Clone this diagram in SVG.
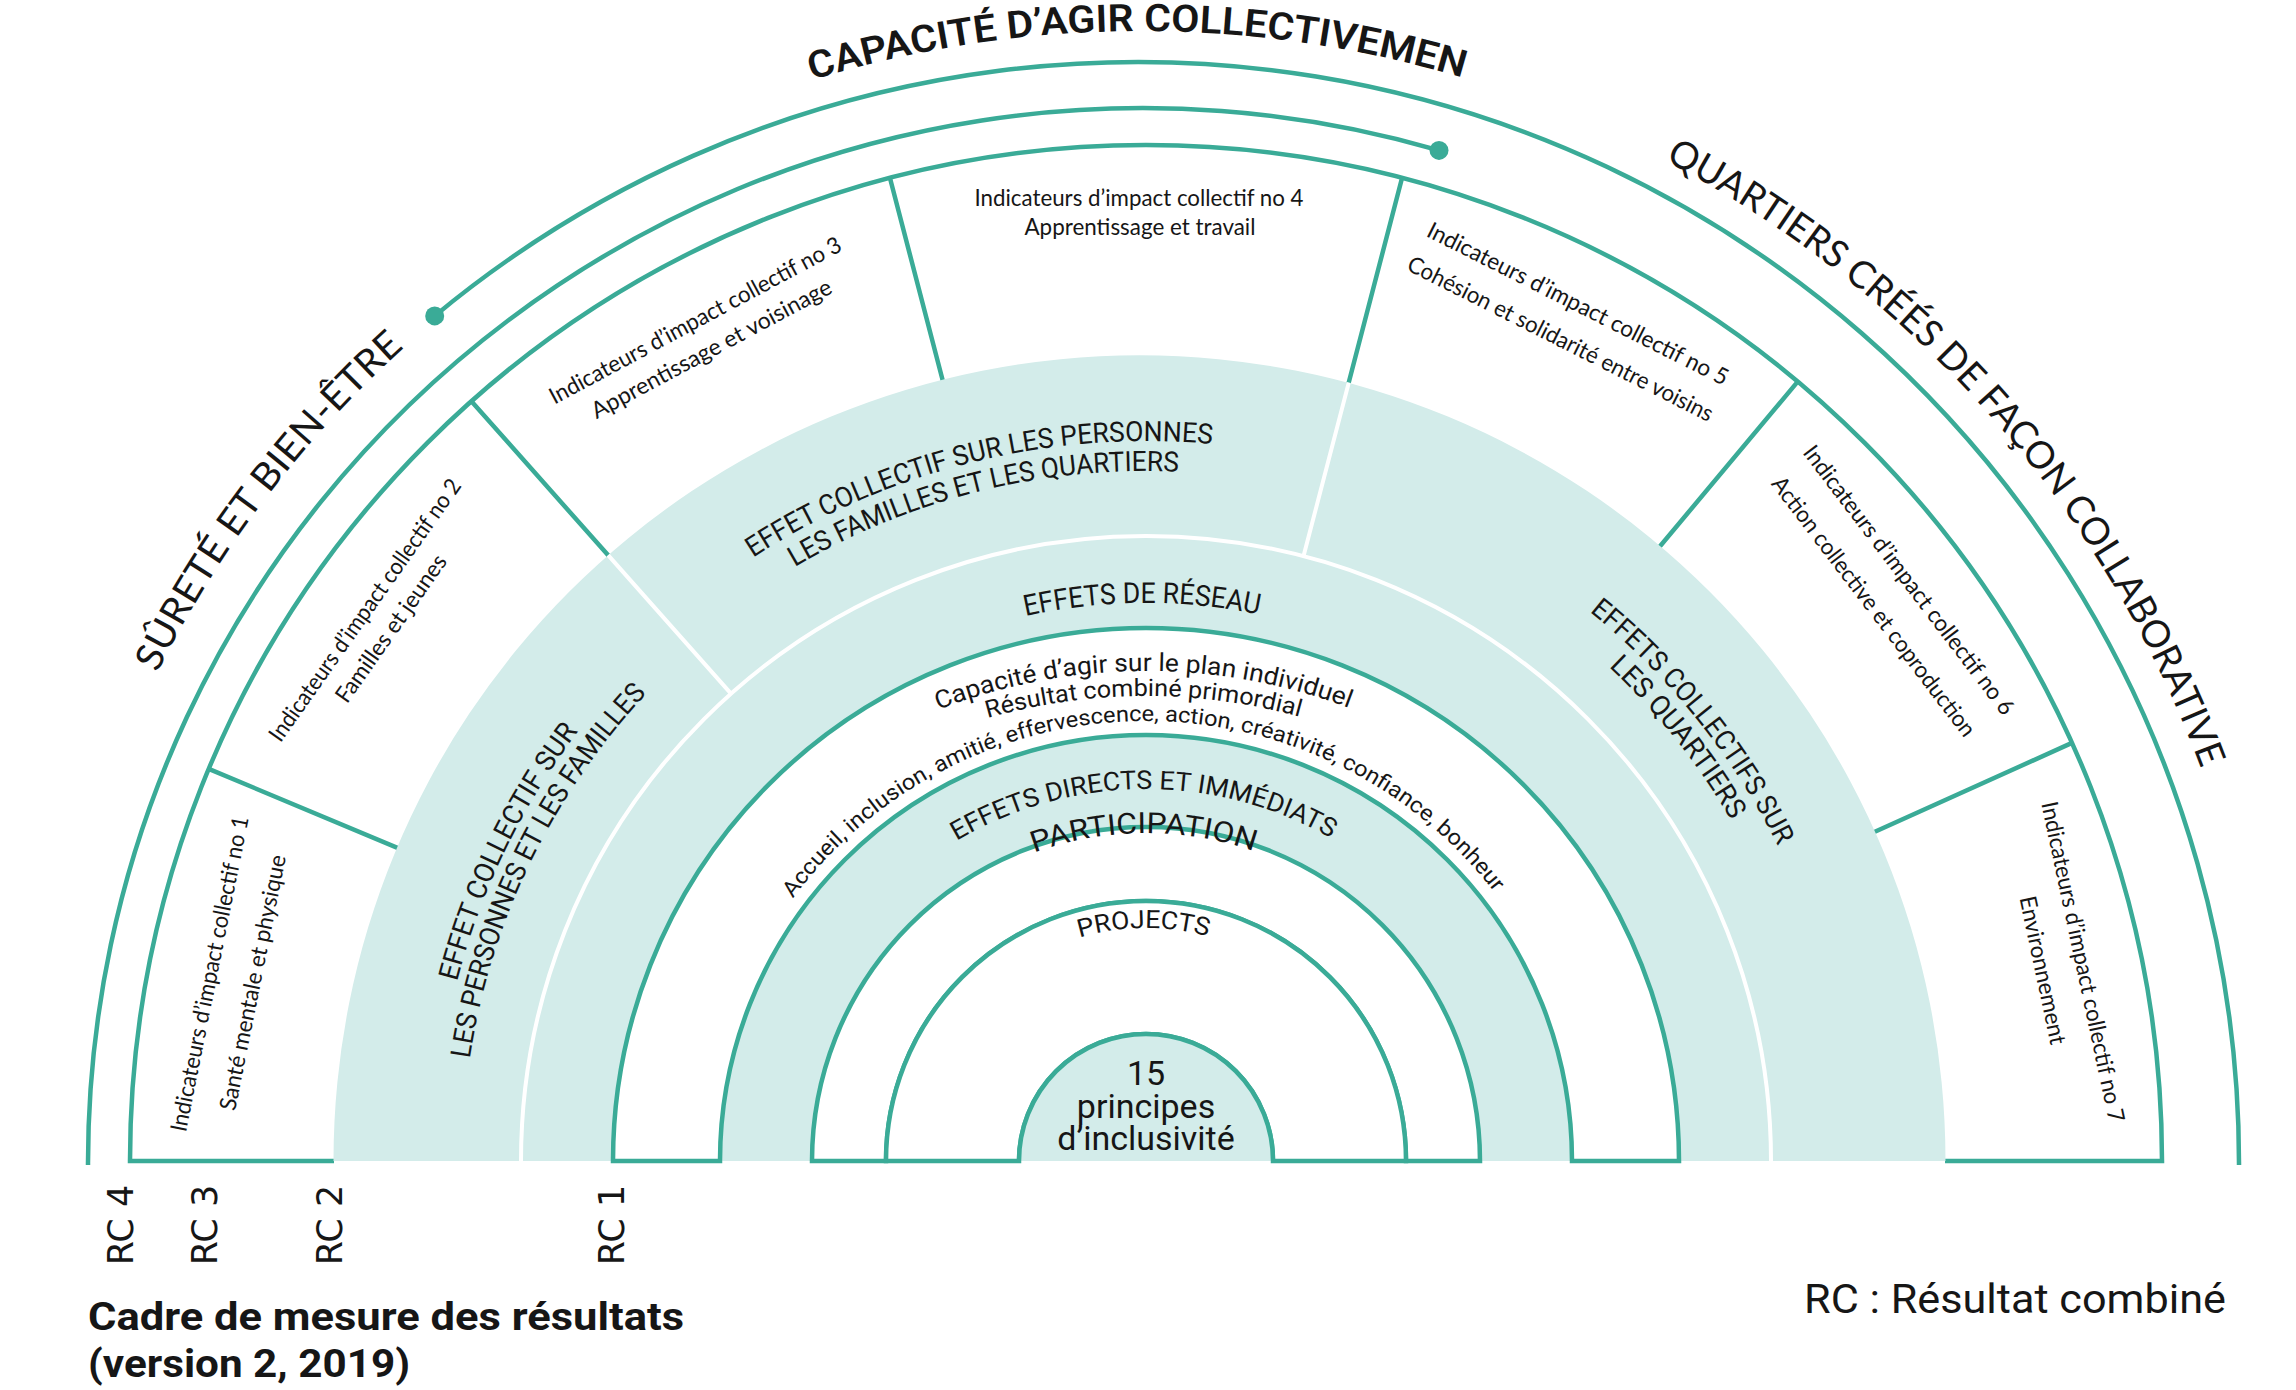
<svg xmlns="http://www.w3.org/2000/svg" width="2296" height="1390" viewBox="0 0 2296 1390">
<style>
.ln{fill:none;stroke:#3aab97;stroke-width:4.5}
.wl{fill:none;stroke:#ffffff;stroke-width:4}
.tl{fill:#d3ecea}
.band{fill:#ffffff;stroke:#3aab97;stroke-width:4.5}
.dot{fill:#3aab97}
text{fill:#161616}
.r{font-family:Roboto,'Liberation Sans',sans-serif}
.lb{font-family:Lato,'Liberation Sans',sans-serif;font-size:38px}
.ttl{font-family:Roboto,'Liberation Sans',sans-serif;font-size:38px;font-weight:600}
.ind{font-family:Lato,Roboto,'Liberation Sans',sans-serif;font-size:23px}
.sec{font-family:Roboto,'Liberation Sans',sans-serif;font-size:28px}
.rc{font-family:'DejaVu Sans',sans-serif;font-size:35px}
</style>
<defs>
<path id="pTitle" d="M488.5 238 A1132 1132 0 0 1 1786.9 233.4"/>
<path id="pRight" d="M1406.9 63.7 A1131 1131 0 0 1 2265 1036.9"/>
<path id="pLeft" d="M66.8 930.8 A1099 1099 0 0 1 628.4 190.8"/>
<path id="pReseau" d="M906.6 656.9 A558 558 0 0 1 1378.3 653.6"/>
<path id="pCap" d="M900.3 726 A576 576 0 0 1 1387.1 723.9"/>
<path id="pRes" d="M899.9 751.1 A577 577 0 0 1 1387.6 749"/>
<path id="pAcc" d="M731.2 1014.1 A440 440 0 0 1 1558.1 1006.9"/>
<path id="pDir" d="M930.5 857.8 A372 372 0 0 1 1357.2 854.8"/>
<path id="pPart" d="M1005.3 864.7 A328 328 0 0 1 1282.5 862.8"/>
<path id="pProj" d="M1064.1 942.9 A233 233 0 0 1 1223.4 941.2"/>
<path id="pL1" d="M437.7 1088.4 A712 712 0 0 1 650.1 650.1"/>
<path id="pL2" d="M465.6 1091.3 A684 684 0 0 1 669.6 670.2"/>
<path id="pM1" d="M693.9 600.7 A720 720 0 0 1 1284.6 454.5"/>
<path id="pM2" d="M712.2 624.4 A690 690 0 0 1 1278.3 483.8"/>
<path id="pR1" d="M1457.7 527.5 A706 706 0 0 1 1831.6 992.6"/>
<path id="pR2" d="M1447.5 554.9 A677 677 0 0 1 1804.2 1002.4"/>
</defs>
<rect width="2296" height="1390" fill="#ffffff"/>

<g id="indicator-ring">
<path class="ln" d="M334 1161 L130 1161 A1016 1016 0 0 1 2162 1161 L1945 1161"/>
<path class="ln" d="M417.2 856.1 L208.7 768.9 M621.5 570.3 L471.4 401.2 M946.9 396.5 L889.9 177.8 M1345.1 396.5 L1402.1 177.8 M1652.7 555 L1797.7 381.6 M1866 835.8 L2072 742.9"/>
</g>

<g id="collective-effects-ring">
<path class="tl" d="M333.5 1161 A806 806 0 0 1 1945.5 1161 Z"/>
<path class="wl" d="M521 1161 A625 625 0 0 1 1771 1161"/>
<path class="wl" d="M731 693.6 L608.1 555.1 M1303.5 556.2 L1348.8 382.6"/>
</g>

<g id="individual-ring">
<path class="band" d="M613 1161 A533 533 0 0 1 1679 1161 L1572 1161 A426 426 0 0 0 720 1161 Z"/>
</g>
<g id="participation-ring">
<path class="band" d="M812 1161 A334 334 0 0 1 1480 1161 L1406 1161 A260 260 0 0 0 886 1161 Z"/>
</g>
<g id="projects-ring">
<path class="band" d="M886 1161 A260 260 0 0 1 1406 1161 L1273 1161 A127 127 0 0 0 1019 1161 Z"/>
</g>
<g id="principles">
<path class="tl" d="M1019 1161 A127 127 0 0 1 1273 1161 Z"/>
<path class="ln" d="M1019 1161 A127 127 0 0 1 1273 1161"/>
<text class="r" x="1146" y="1085" font-size="34" text-anchor="middle">15</text>
<text class="r" x="1146" y="1118" font-size="34" text-anchor="middle">principes</text>
<text class="r" x="1146" y="1150" font-size="34" text-anchor="middle">d’inclusivité</text>
</g>

<g id="outer-arcs">
<path class="ln" d="M434.7 315.9 A1101 1101 0 0 1 2239 1165"/>
<path class="ln" d="M88 1165 A1055 1055 0 0 1 1439 150.4"/>
<circle class="dot" cx="434.7" cy="315.9" r="9.5"/>
<circle class="dot" cx="1439" cy="150.4" r="9.5"/>
</g>

<g id="arc-labels">
<text class="ttl"><textPath href="#pTitle" startOffset="50%" text-anchor="middle" textLength="660" lengthAdjust="spacingAndGlyphs">CAPACITÉ D’AGIR COLLECTIVEMEN</textPath></text>
<text class="lb"><textPath href="#pRight" startOffset="50%" text-anchor="middle" textLength="829" lengthAdjust="spacingAndGlyphs">QUARTIERS CRÉÉS DE FAÇON COLLABORATIVE</textPath></text>
<text class="lb"><textPath href="#pLeft" startOffset="50%" text-anchor="middle" textLength="411" lengthAdjust="spacingAndGlyphs">SÛRETÉ ET BIEN-ÊTRE</textPath></text>
</g>

<g id="indicators" text-anchor="middle" dominant-baseline="central">
<text class="ind" transform="translate(208.5 973.7) rotate(-78.7)" textLength="321" lengthAdjust="spacingAndGlyphs">Indicateurs d’impact collectif no 1</text>
<text class="ind" transform="translate(251.7 982.3) rotate(-78.7)" textLength="260" lengthAdjust="spacingAndGlyphs">Santé mentale et physique</text>
<text class="ind" transform="translate(364 609.4) rotate(-54.8)" textLength="315" lengthAdjust="spacingAndGlyphs">Indicateurs d’impact collectif no 2</text>
<text class="ind" transform="translate(390.1 627.8) rotate(-54.8)" textLength="175" lengthAdjust="spacingAndGlyphs">Familles et jeunes</text>
<text class="ind" transform="translate(694.7 319.4) rotate(-28.2)" textLength="328" lengthAdjust="spacingAndGlyphs">Indicateurs d’impact collectif no 3</text>
<text class="ind" transform="translate(710.9 347.8) rotate(-28.2)" textLength="269" lengthAdjust="spacingAndGlyphs">Apprentissage et voisinage</text>
<text class="ind" transform="translate(1139 197)" textLength="329" lengthAdjust="spacingAndGlyphs">Indicateurs d’impact collectif no 4</text>
<text class="ind" transform="translate(1140 226)" textLength="231" lengthAdjust="spacingAndGlyphs">Apprentissage et travail</text>
<text class="ind" transform="translate(1578.5 302.8) rotate(26.75)" textLength="334" lengthAdjust="spacingAndGlyphs">Indicateurs d’impact collectif no 5</text>
<text class="ind" transform="translate(1561 337.7) rotate(26.75)" textLength="339" lengthAdjust="spacingAndGlyphs">Cohésion et solidarité entre voisins</text>
<text class="ind" transform="translate(1909.7 579.3) rotate(52.7)" textLength="332" lengthAdjust="spacingAndGlyphs">Indicateurs d’impact collectif no 6</text>
<text class="ind" transform="translate(1874.6 605.9) rotate(52.7)" textLength="320" lengthAdjust="spacingAndGlyphs">Action collective et coproduction</text>
<text class="ind" transform="translate(2084 961.6) rotate(78)" textLength="327" lengthAdjust="spacingAndGlyphs">Indicateurs d’impact collectif no 7</text>
<text class="ind" transform="translate(2043.9 970) rotate(78)" textLength="151" lengthAdjust="spacingAndGlyphs">Environnement</text>
</g>

<g id="sector-labels">
<text class="sec"><textPath href="#pL1" startOffset="50%" text-anchor="middle" textLength="280" lengthAdjust="spacingAndGlyphs">EFFET COLLECTIF SUR</textPath></text>
<text class="sec"><textPath href="#pL2" startOffset="50%" text-anchor="middle" textLength="412" lengthAdjust="spacingAndGlyphs">LES PERSONNES ET LES FAMILLES</textPath></text>
<text class="sec"><textPath href="#pM1" startOffset="50%" text-anchor="middle" textLength="482" lengthAdjust="spacingAndGlyphs">EFFET COLLECTIF SUR LES PERSONNES</textPath></text>
<text class="sec"><textPath href="#pM2" startOffset="50%" text-anchor="middle" textLength="401" lengthAdjust="spacingAndGlyphs">LES FAMILLES ET LES QUARTIERS</textPath></text>
<text class="sec"><textPath href="#pR1" startOffset="50%" text-anchor="middle" textLength="303" lengthAdjust="spacingAndGlyphs">EFFETS COLLECTIFS SUR</textPath></text>
<text class="sec"><textPath href="#pR2" startOffset="50%" text-anchor="middle" textLength="197" lengthAdjust="spacingAndGlyphs">LES QUARTIERS</textPath></text>
</g>

<g id="ring-labels" class="r">
<text font-size="29"><textPath href="#pReseau" startOffset="50%" text-anchor="middle" textLength="235" lengthAdjust="spacingAndGlyphs">EFFETS DE RÉSEAU</textPath></text>
<text font-size="25"><textPath href="#pCap" startOffset="50%" text-anchor="middle" textLength="420" lengthAdjust="spacingAndGlyphs">Capacité d’agir sur le plan individuel</textPath></text>
<text font-size="24"><textPath href="#pRes" startOffset="50%" text-anchor="middle" textLength="316" lengthAdjust="spacingAndGlyphs">Résultat combiné primordial</textPath></text>
<text font-size="22"><textPath href="#pAcc" startOffset="50%" text-anchor="middle" textLength="812" lengthAdjust="spacingAndGlyphs">Accueil, inclusion, amitié, effervescence, action, créativité, confiance, bonheur</textPath></text>
<text font-size="26"><textPath href="#pDir" startOffset="50%" text-anchor="middle" textLength="392" lengthAdjust="spacingAndGlyphs">EFFETS DIRECTS ET IMMÉDIATS</textPath></text>
<text font-size="29"><textPath href="#pPart" startOffset="50%" text-anchor="middle" textLength="224" lengthAdjust="spacingAndGlyphs">PARTICIPATION</textPath></text>
<text font-size="25"><textPath href="#pProj" startOffset="50%" text-anchor="middle" textLength="130" lengthAdjust="spacingAndGlyphs">PROJECTS</textPath></text>
</g>

<g id="rc-axis" text-anchor="middle" dominant-baseline="central">
<text class="rc" transform="translate(120.5 1225) rotate(-90)">RC 4</text>
<text class="rc" transform="translate(204.5 1225) rotate(-90)">RC 3</text>
<text class="rc" transform="translate(330 1225) rotate(-90)">RC 2</text>
<text class="rc" transform="translate(611.5 1225) rotate(-90)">RC 1</text>
</g>

<g id="captions" class="r">
<text x="88" y="1330" font-size="39" font-weight="700" textLength="596" lengthAdjust="spacingAndGlyphs">Cadre de mesure des résultats</text>
<text x="88" y="1377" font-size="39" font-weight="700" textLength="322" lengthAdjust="spacingAndGlyphs">(version 2, 2019)</text>
<text x="1804" y="1313" font-size="40" textLength="422" lengthAdjust="spacingAndGlyphs">RC : Résultat combiné</text>
</g>
</svg>
